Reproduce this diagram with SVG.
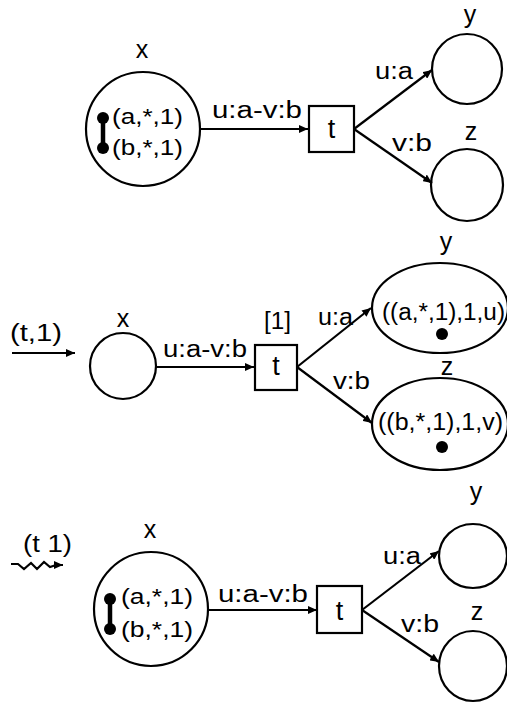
<svg xmlns="http://www.w3.org/2000/svg" width="507" height="709" viewBox="0 0 507 709">
<style>
.n{fill:none;stroke:#000;stroke-width:2.2}
.e{fill:none;stroke:#000;stroke-width:2.2}
text{font-family:"Liberation Sans",Arial,sans-serif;fill:#000}
.lab{font-size:23px}
.nl{font-size:25px;text-anchor:middle}
.tk{font-size:22px}
.tt{font-size:27px;text-anchor:middle}
.dot{fill:#000}
</style>
<defs>
<marker id="ah" markerUnits="userSpaceOnUse" markerWidth="10" markerHeight="8" refX="9" refY="4" orient="auto">
<path d="M0,0 L9,4 L0,8 z" fill="#000"/>
</marker>
</defs>

<!-- Panel 1 -->
<g id="p1-x">
<circle class="n" cx="143" cy="129" r="57"/>
<text class="nl" x="142" y="58">x</text>
<line x1="103" y1="118" x2="103" y2="148" stroke="#000" stroke-width="4.5"/>
<circle class="dot" cx="103" cy="118" r="6"/>
<circle class="dot" cx="103" cy="148" r="6"/>
<text class="tk" x="112" y="124" textLength="71" lengthAdjust="spacingAndGlyphs">(a,*,1)</text>
<text class="tk" x="112" y="155" textLength="71" lengthAdjust="spacingAndGlyphs">(b,*,1)</text>
</g>
<g id="p1-t">
<rect class="n" x="309" y="106" width="45" height="46"/>
<text class="tt" x="331.5" y="138">t</text>
</g>
<g id="p1-y">
<circle class="n" cx="467" cy="69" r="35"/>
<text class="nl" x="470" y="23">y</text>
</g>
<g id="p1-z">
<circle class="n" cx="467" cy="185" r="36"/>
<text class="nl" x="471" y="140">z</text>
</g>

<!-- Panel 2 -->
<g id="p2-x">
<circle class="n" cx="123" cy="366" r="33"/>
<text class="nl" x="123" y="327">x</text>
</g>
<g id="p2-t">
<rect class="n" x="255" y="345" width="42" height="45"/>
<text class="tt" x="276" y="375">t</text>
<text class="lab" x="264" y="329" textLength="27" lengthAdjust="spacingAndGlyphs">[1]</text>
</g>
<g id="p2-y">
<ellipse class="n" cx="440" cy="308" rx="68" ry="45"/>
<text class="nl" x="446" y="250">y</text>
<text class="lab" font-size="22" x="382" y="320" textLength="123" lengthAdjust="spacingAndGlyphs">((a,*,1),1,u)</text>
<circle class="dot" cx="442" cy="334" r="6"/>
</g>
<g id="p2-z">
<ellipse class="n" cx="440" cy="424" rx="68" ry="46"/>
<text class="nl" x="447" y="375">z</text>
<text class="lab" font-size="22" x="378" y="430" textLength="125" lengthAdjust="spacingAndGlyphs">((b,*,1),1,v)</text>
<circle class="dot" cx="442" cy="447" r="6"/>
</g>

<!-- Panel 3 -->
<g id="p3-x">
<circle class="n" cx="151" cy="609" r="57"/>
<text class="nl" x="150" y="538">x</text>
<line x1="110" y1="599" x2="110" y2="629" stroke="#000" stroke-width="4.5"/>
<circle class="dot" cx="110" cy="599" r="6"/>
<circle class="dot" cx="110" cy="629" r="6"/>
<text class="tk" x="121" y="604" textLength="72" lengthAdjust="spacingAndGlyphs">(a,*,1)</text>
<text class="tk" x="121" y="637" textLength="72" lengthAdjust="spacingAndGlyphs">(b,*,1)</text>
</g>
<g id="p3-t">
<rect class="n" x="317" y="586" width="45" height="47"/>
<text class="tt" x="339.5" y="620">t</text>
</g>
<g id="p3-y">
<ellipse class="n" cx="473" cy="556" rx="34" ry="32"/>
<text class="nl" x="476" y="500">y</text>
</g>
<g id="p3-z">
<ellipse class="n" cx="473" cy="666" rx="34" ry="35"/>
<text class="nl" x="477" y="620">z</text>
</g>

<g id="connectors">
<line class="e" x1="200" y1="129" x2="308" y2="129" marker-end="url(#ah)"/>
<line class="e" x1="354" y1="129" x2="432" y2="70" marker-end="url(#ah)"/>
<line class="e" x1="354" y1="129" x2="432" y2="183" marker-end="url(#ah)"/>
<text class="lab" x="212" y="118" textLength="90" lengthAdjust="spacingAndGlyphs">u:a-v:b</text>
<text class="lab" x="375" y="79" textLength="38" lengthAdjust="spacingAndGlyphs">u:a</text>
<text class="lab" x="392" y="151" textLength="40" lengthAdjust="spacingAndGlyphs">v:b</text>

<line class="e" x1="12" y1="353" x2="75" y2="353" marker-end="url(#ah)"/>
<text class="lab" x="10" y="341" textLength="52" lengthAdjust="spacingAndGlyphs">(t,1)</text>
<line class="e" x1="156" y1="367" x2="254" y2="367" marker-end="url(#ah)"/>
<line class="e" x1="297" y1="367" x2="371" y2="308" marker-end="url(#ah)"/>
<line class="e" x1="297" y1="367" x2="372" y2="423" marker-end="url(#ah)"/>
<text class="lab" x="163" y="357" textLength="84" lengthAdjust="spacingAndGlyphs">u:a-v:b</text>
<text class="lab" x="318" y="325" textLength="35" lengthAdjust="spacingAndGlyphs">u:a</text>
<text class="lab" x="333" y="389" textLength="37" lengthAdjust="spacingAndGlyphs">v:b</text>

<polyline class="e" points="11,564 18,564 24,569 31,563 37,569 44,562 50,567 56,565 63,565" marker-end="url(#ah)"/>
<text class="lab" x="23" y="552" textLength="49" lengthAdjust="spacingAndGlyphs">(t 1)</text>
<line class="e" x1="208" y1="610" x2="317" y2="610" marker-end="url(#ah)"/>
<line class="e" x1="362" y1="610" x2="439" y2="551" marker-end="url(#ah)"/>
<line class="e" x1="362" y1="610" x2="439" y2="662" marker-end="url(#ah)"/>
<text class="lab" x="218" y="602" textLength="90" lengthAdjust="spacingAndGlyphs">u:a-v:b</text>
<text class="lab" x="383" y="564" textLength="38" lengthAdjust="spacingAndGlyphs">u:a</text>
<text class="lab" x="401" y="632" textLength="38" lengthAdjust="spacingAndGlyphs">v:b</text>
</g>
</svg>
